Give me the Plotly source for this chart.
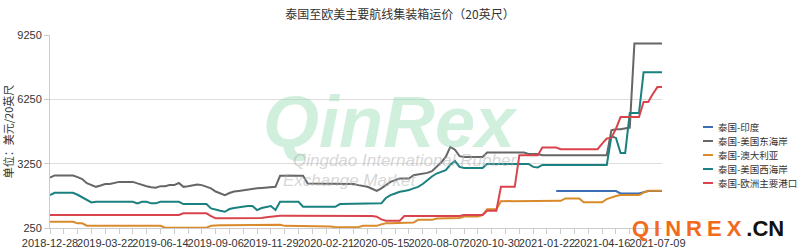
import pandas as pd
import plotly.graph_objects as go

start_date = "2018-12-28"
n_weeks = 134
dates = pd.date_range(start_date, periods=n_weeks, freq="7D")

tick_dates = ["2018-12-28", "2019-03-22", "2019-06-14", "2019-09-06", "2019-11-29",
              "2020-02-21", "2020-05-15", "2020-08-07", "2020-10-30", "2021-01-22",
              "2021-04-16", "2021-07-09"]
y_ticks = [250, 3250, 6250, 9250]

names = ["泰国-印度", "泰国-美国东海岸", "泰国-澳大利亚", "泰国-美国西海岸", "泰国-欧洲主要港口"]

india = [None] * 110 + [1970] * 14 + [1863] * 5 + [1920] + [1970] * 4

us_east = [
    2600, 2700, 2700, 2700, 2700, 2700, 2620, 2530, 2340, 2250,
    2170, 2230, 2300, 2300, 2350, 2400, 2400, 2400, 2400, 2330,
    2250, 2200, 2150, 2124, 2200, 2200, 2250, 2250, 2350, 2170,
    2200, 2250, 2280, 2250, 2170, 2100, 1950, 1850, 1785, 1880,
    1950, 1980, 2017, 2030, 2060, 2100, 2120, 2142, 2160, 2170,
    2682, 2682, 2682, 2682, 2682, 2682, 2329, 2329, 2329, 2329,
    2329, 2329, 2329, 2329, 2329, 2329, 2300, 2250, 2200, 2170,
    2080, 1985, 2095, 2250, 2400, 2480, 2560, 2560, 2560, 2715,
    2750, 2800, 2820, 2900, 3100, 3300, 3565, 4030, 3900, 3600,
    3565, 3565, 3565, 3565, 3565, 3770, 3770, 3770, 3770, 3770,
    3770, 3770, 3770, 3770, 3700, 3700, 3700, 3645, 3645, 3645,
    3645, 3645, 3645, 3645, 3645, 3645, 3645, 3645, 3645, 3645,
    3645, 3645, 4807, 4853, 4853, 4900, 4932, 8850, 8850, 8850,
    8850, 8850, 8850, 8850,
]

australia = [
    543, 543, 543, 543, 543, 543, 468, 468, 357, 357,
    357, 357, 357, 357, 357, 357, 357, 357, 357, 357,
    357, 357, 357, 357, 357, 264, 264, 264, 264, 264,
    264, 264, 264, 264, 264, 350, 380, 380, 380, 380,
    380, 400, 400, 400, 400, 400, 400, 400, 400, 400,
    400, 350, 350, 350, 350, 350, 320, 320, 320, 320,
    320, 320, 290, 290, 290, 290, 290, 290, 350, 350,
    350, 350, 420, 470, 470, 470, 504, 504, 504, 504,
    629, 629, 629, 629, 690, 690, 690, 690, 690, 720,
    783, 783, 783, 783, 854, 1120, 1120, 1120, 1500, 1500,
    1500, 1500, 1500, 1500, 1500, 1500, 1500, 1500, 1500, 1500,
    1500, 1520, 1631, 1631, 1631, 1631, 1445, 1445, 1445, 1445,
    1445, 1600, 1678, 1740, 1785, 1785, 1785, 1785, 1785, 1900,
    1985, 1985, 1985, 1985,
]

us_west = [
    1785, 1891, 1891, 1891, 1891, 1891, 1800, 1678, 1560, 1445,
    1473, 1473, 1473, 1473, 1473, 1473, 1473, 1473, 1473, 1400,
    1473, 1473, 1400, 1400, 1473, 1473, 1473, 1473, 1473, 1366,
    1366, 1366, 1366, 1366, 1366, 1165, 1100, 1050, 1008, 1134,
    1180, 1220, 1240, 1273, 1273, 1087, 1180, 1240, 1273, 1087,
    1473, 1473, 1473, 1473, 1473, 1240, 1240, 1240, 1240, 1240,
    1240, 1240, 1240, 1366, 1366, 1366, 1366, 1366, 1366, 1366,
    1366, 1366, 1400, 1650, 1785, 1860, 1940, 1980, 2017, 2100,
    2170, 2300, 2480, 2650, 2790, 2870, 2945, 3200, 3380, 3100,
    3045, 3045, 3045, 3045, 3045, 3240, 3240, 3240, 3240, 3240,
    3240, 3240, 3240, 3240, 3240, 3100, 3073, 3193, 3193, 3193,
    3193, 3193, 3193, 3193, 3193, 3193, 3193, 3193, 3193, 3193,
    3193, 3193, 4528, 4450, 3751, 3751, 5611, 5611, 5611, 7518,
    7518, 7518, 7518, 7518,
]

europe = [
    854, 854, 854, 854, 854, 854, 854, 854, 854, 854,
    854, 854, 854, 854, 854, 854, 854, 854, 854, 854,
    854, 854, 854, 854, 854, 854, 854, 854, 854, 934,
    934, 934, 934, 934, 934, 808, 701, 701, 701, 701,
    701, 701, 701, 701, 701, 701, 720, 748, 780, 800,
    822, 822, 822, 822, 822, 822, 822, 822, 822, 822,
    822, 822, 822, 822, 822, 822, 808, 808, 808, 808,
    808, 776, 650, 590, 590, 590, 590, 808, 808, 808,
    808, 808, 808, 808, 808, 808, 808, 808, 808, 808,
    854, 854, 854, 854, 854, 1054, 1054, 1054, 2170, 2170,
    2170, 2170, 3645, 3645, 3645, 3645, 3645, 4002, 4002, 4002,
    4002, 3924, 3924, 3924, 3924, 3924, 3924, 3924, 3924, 3924,
    4188, 4421, 4450, 4886, 5425, 5425, 5425, 5425, 5425, 6123,
    6123, 6500, 6820, 6820,
]

series = [india, us_east, australia, us_west, europe]
colors = ["#3a6db3", "#666666", "#d98a2b", "#1a8080", "#d9444c"]

W, H = 800, 251
L, R, T, B = 50, 138, 35, 23
pw, ph = W - L - R, H - T - B


def px(x):
    return (x - L) / pw


def py(y):
    return (H - B - y) / ph


fig = go.Figure()
for name, vals, col in zip(names, series, colors):
    fig.add_trace(go.Scatter(x=dates, y=vals, name=name, mode="lines",
                             line=dict(color=col, width=2), connectgaps=False,
                             showlegend=False))

font_family = "Liberation Sans, Arial, sans-serif"
cjk = "Noto Sans CJK SC"

fig.update_layout(
    width=W, height=H,
    margin=dict(l=L, r=R, t=T, b=B),
    paper_bgcolor="white", plot_bgcolor="white",
    font=dict(family=font_family, size=11, color="#333333"),
    title=dict(text="泰国至欧美主要航线集装箱运价（20英尺）", x=0.5, xanchor="center",
               y=1 - 15 / H, yanchor="middle",
               font=dict(size=12, color="#333333", family=cjk)),
    showlegend=False,
)

fig.update_xaxes(
    type="date",
    range=[dates[0], dates[-1]],
    tickvals=pd.to_datetime(tick_dates),
    ticktext=tick_dates,
    tickangle=0,
    automargin=False,
    showgrid=False,
    showline=True, linecolor="#cccccc", linewidth=1,
    ticks="outside", ticklen=5, tickcolor="#cccccc",
    minor=dict(dtick=21 * 24 * 3600 * 1000, tick0=start_date, ticks="outside",
               ticklen=5, tickcolor="#cccccc", showgrid=False),
    tickfont=dict(size=11, color="#333333"),
    zeroline=False, fixedrange=True,
)

fig.update_yaxes(
    range=[250, 9250],
    tickvals=y_ticks,
    automargin=False,
    showgrid=True, gridcolor="#dddddd", gridwidth=1,
    showline=True, linecolor="#cccccc", linewidth=1,
    ticks="outside", ticklen=5, tickcolor="#cccccc",
    tickfont=dict(size=11, color="#333333"),
    title=dict(text="单位：美元/20英尺", standoff=4,
               font=dict(size=11, color="#333333", family=cjk)),
    zeroline=False,
)

# legend drawn as line samples + labels
legend_y = [127, 141, 155, 169, 183]
for name, col, ly in zip(names, colors, legend_y):
    fig.add_shape(type="line", xref="paper", yref="paper",
                  x0=px(703), x1=px(713), y0=py(ly), y1=py(ly),
                  line=dict(color=col, width=2))
    fig.add_annotation(xref="paper", yref="paper", x=px(716), y=py(ly),
                       xanchor="left", yanchor="middle", text=name, showarrow=False,
                       font=dict(size=9.5, color="#333333", family=cjk))

# watermark
fig.add_annotation(xref="paper", yref="paper", x=px(390), y=py(122),
                   text="<b><i>QinRex</i></b>", showarrow=False,
                   font=dict(size=72, color="rgba(150,220,180,0.45)", family="Liberation Sans"))
fig.add_annotation(xref="paper", yref="paper", x=px(405), y=py(172),
                   text="<i>Qingdao International Rubber</i>", showarrow=False,
                   font=dict(size=17, color="rgba(180,180,180,0.55)", family="Liberation Sans"))
fig.add_annotation(xref="paper", yref="paper", x=px(350), y=py(192),
                   text="<i>Exchange Market</i>", showarrow=False,
                   font=dict(size=17, color="rgba(180,180,180,0.55)", family="Liberation Sans"))
# site mark
fig.add_annotation(xref="paper", yref="paper", x=px(630), xanchor="left",
                   y=py(214), yanchor="top",
                   text="<b><span style='color:#f26b1d;letter-spacing:5px'>QINREX</span>.CN</b>",
                   showarrow=False,
                   font=dict(size=22, color="#111111", family="Liberation Sans"))

fig.write_html("out.html")
